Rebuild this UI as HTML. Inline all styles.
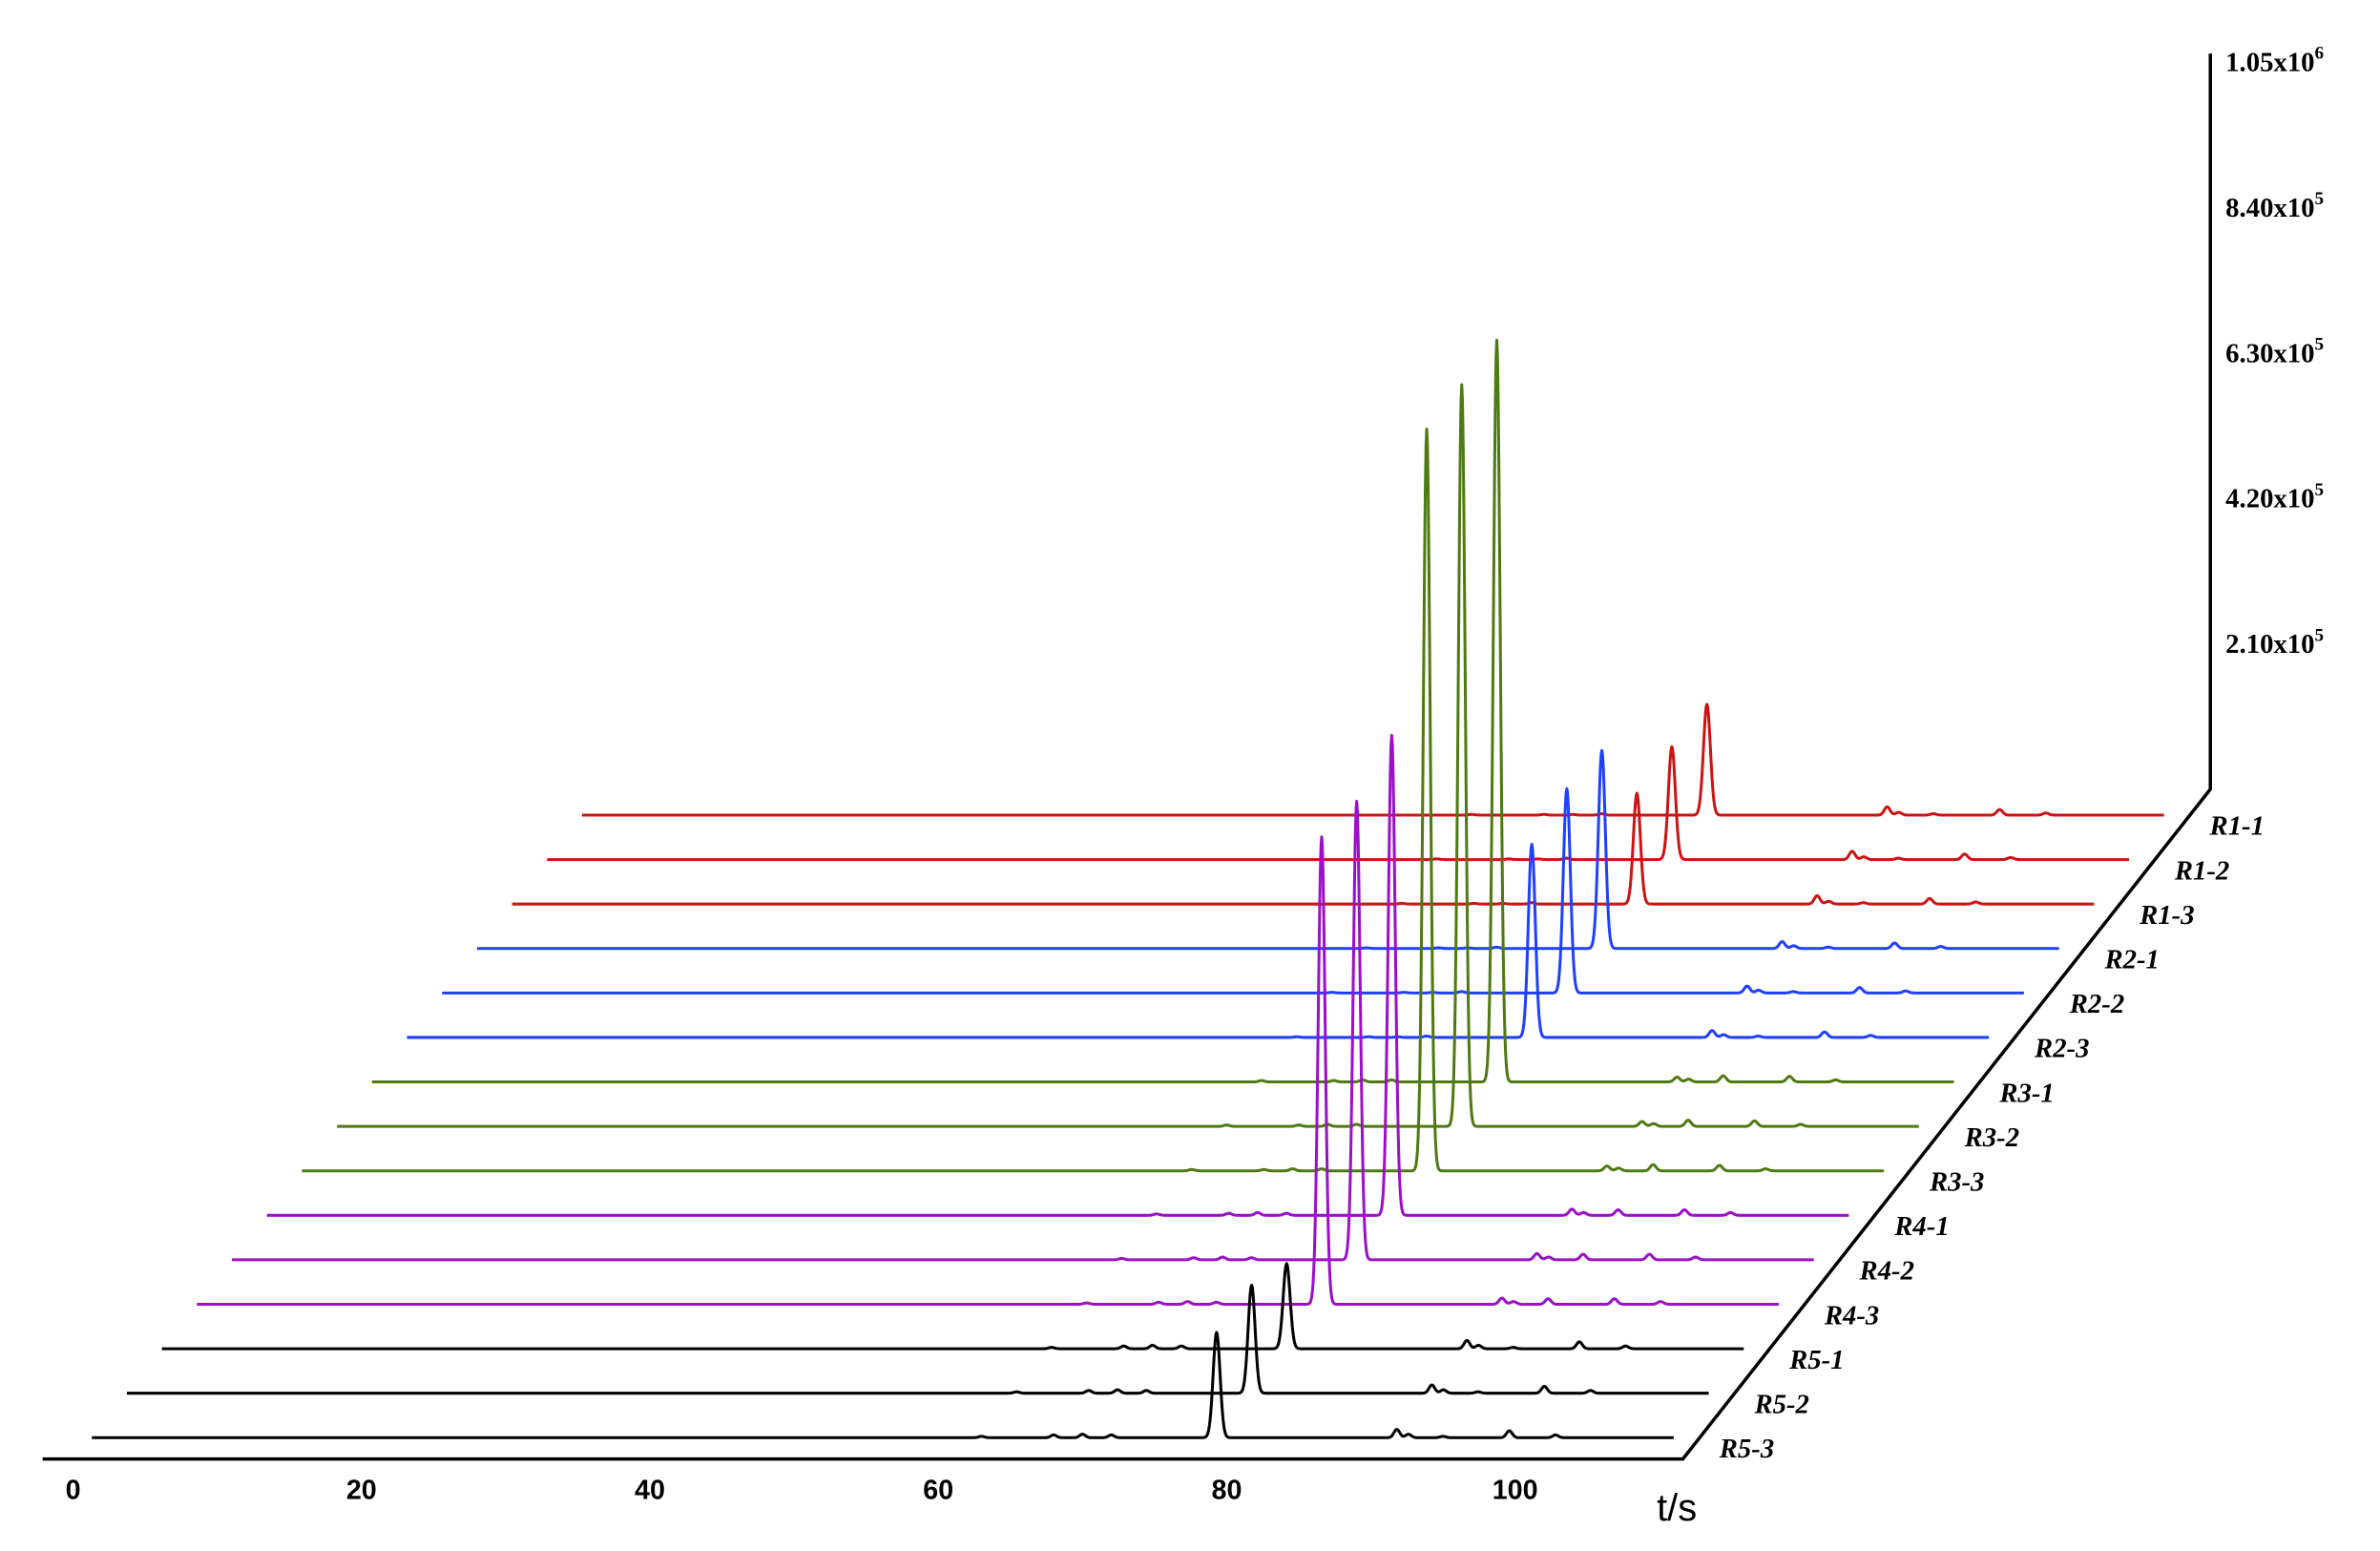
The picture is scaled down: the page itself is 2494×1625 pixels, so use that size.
<!DOCTYPE html>
<html><head><meta charset="utf-8"><style>
html,body{margin:0;padding:0;background:#fff;}
svg{display:block;}
.tk{font-family:"Liberation Sans",sans-serif;font-weight:bold;font-size:18px;fill:#000;}
.yl{font-family:"Liberation Serif",serif;font-weight:bold;font-size:18px;fill:#000;}
.sl{font-family:"Liberation Serif",serif;font-weight:bold;font-style:italic;font-size:18px;fill:#000;}
</style></head><body>
<svg id="chart" width="2494" height="1625" viewBox="0 0 1563 1018" xmlns="http://www.w3.org/2000/svg">
<g id="axes"></g>
<g id="series"></g>
<g id="labels"></g>
</svg>
<script>
const seriesNames = ["R1-1","R1-2","R1-3","R2-1","R2-2","R2-3","R3-1","R3-2","R3-3","R4-1","R4-2","R4-3","R5-1","R5-2","R5-3"];
const seriesColors = ["#cc1414","#cc1414","#cc1414","#2040ff","#2040ff","#2040ff","#4f7a12","#4f7a12","#4f7a12","#9b10c8","#9b10c8","#9b10c8","#000","#000","#000"];
const mainPeakTime = [79.3,79.3,79.3,79.3,79.3,79.3,79.3,79.3,79.3,79.3,79.3,79.3,79.3,79.3,79.3];
const mainPeakHeight = [160000,163000,160000,286000,295000,279000,1071000,1071000,1071000,693000,662000,675000,123000,156000,152000];
const minorTimes = [63,68,70,72,91.8,92.6,95,99.6,102.8];
const minorHeights = [
 [1000,1000,1000,2000,12000,4000,2000,8000,3000],
 [1000,1000,1000,2000,12000,4000,2000,8000,3000],
 [1000,1000,1000,2000,12000,4000,2000,8000,3000],
 [1000,1000,1000,2000,10000,4000,2000,8000,3000],
 [1000,1000,1000,2000,10000,4000,2000,8000,3000],
 [1000,1000,1000,2000,10000,4000,2000,8000,3000],
 [2000,2000,3000,3000,7000,4000,9000,8000,3000],
 [2000,2000,3000,3000,7000,4000,9000,8000,3000],
 [2000,2000,3000,3000,7000,4000,9000,8000,3000],
 [2000,3000,4000,3000,9000,4000,8000,8000,4000],
 [2000,3000,4000,3000,9000,4000,8000,8000,4000],
 [2000,3000,4000,3000,9000,4000,8000,8000,4000],
 [2000,4000,5000,4000,12000,5000,2000,10000,4000],
 [2000,4000,5000,4000,12000,5000,2000,10000,4000],
 [2000,4000,5000,4000,12000,5000,2000,10000,4000]
];
const xTicks = [0,20,40,60,80,100];
const yTickValues = [210000,420000,630000,840000,1050000];
const yTickMant = ["2.10","4.20","6.30","8.40","1.05"];
const yTickExp = ["5","5","5","5","6"];
const tStart = 1.3, tEnd = 111;

const NS = "http://www.w3.org/2000/svg";
const X0 = 48, XS = 9.47;
const Y0 = 535, DY = 29.2, DX = 23;
const n = seriesNames.length;
const ZS = 95.5/210000;
const xOf = (t, i) => X0 + t*XS + (n-1-i)*DX;
const baseY = i => Y0 + i*DY;
const zOf = v => v*ZS;

function mk(tag, attrs, parent){
  const el = document.createElementNS(NS, tag);
  for (const k in attrs) el.setAttribute(k, attrs[k]);
  parent.appendChild(el);
  return el;
}
const axes = document.getElementById('axes');
const sg = document.getElementById('series');
const lg = document.getElementById('labels');

const frontY = baseY(n-1) + 14;
const cornerX = xOf(tEnd, n-1) + 6;
const zeroY = 518;
const vx = cornerX+(frontY-zeroY)*DX/DY;
let p = mk('path', {d:`M28 ${frontY} L${cornerX} ${frontY} L${vx} ${zeroY} L${vx} 35`, fill:'none', stroke:'#000', 'stroke-width':2.2}, axes);



xTicks.forEach((t) => {
  const tx = mk('text', {x: X0 + t*XS, y: 984, 'text-anchor':'middle', class:'tk'}, axes);
  tx.textContent = t;
  
  
});
const xt = mk('text', {x: 1088, y: 998, class:'tk', style:'font-weight:normal;font-size:25px'}, axes);
xt.textContent = 't/s';



yTickValues.forEach((v, k) => {
  const y = zeroY - zOf(v) + 6;
  const tx = mk('text', {x: vx + 10, y: y, class:'yl'}, axes);
  tx.textContent = yTickMant[k] + 'x10';
  const sp = mk('tspan', {dy: -8, style:'font-size:12px'}, tx);
  sp.textContent = yTickExp[k];
  
  
});

const sigma = 0.24, sigmaMinor = 0.2;
for (let i = 0; i < n; i++) {
  const by = baseY(i);
  const pts = [];
  for (let t = tStart; t <= tEnd; t += 0.05) {
    let v = mainPeakHeight[i]*Math.exp(-Math.pow(t-mainPeakTime[i],2)/(2*sigma*sigma));
    for (let k = 0; k < minorTimes.length; k++) {
      v += minorHeights[i][k]*Math.exp(-Math.pow(t-minorTimes[k],2)/(2*sigmaMinor*sigmaMinor));
    }
    pts.push(xOf(t,i).toFixed(2) + ',' + (by - zOf(v)).toFixed(2));
  }
  const line = mk('polyline', {points: pts.join(' '), fill:'none', stroke: seriesColors[i], 'stroke-width': 1.9, 'stroke-linejoin':'round'}, sg);
  
  

  const lx = xOf(tEnd, i) + 30;
  const lab = mk('text', {x: lx, y: by + 13, class:'sl'}, lg);
  lab.textContent = seriesNames[i];
  
  
}
</script>
</body></html>
